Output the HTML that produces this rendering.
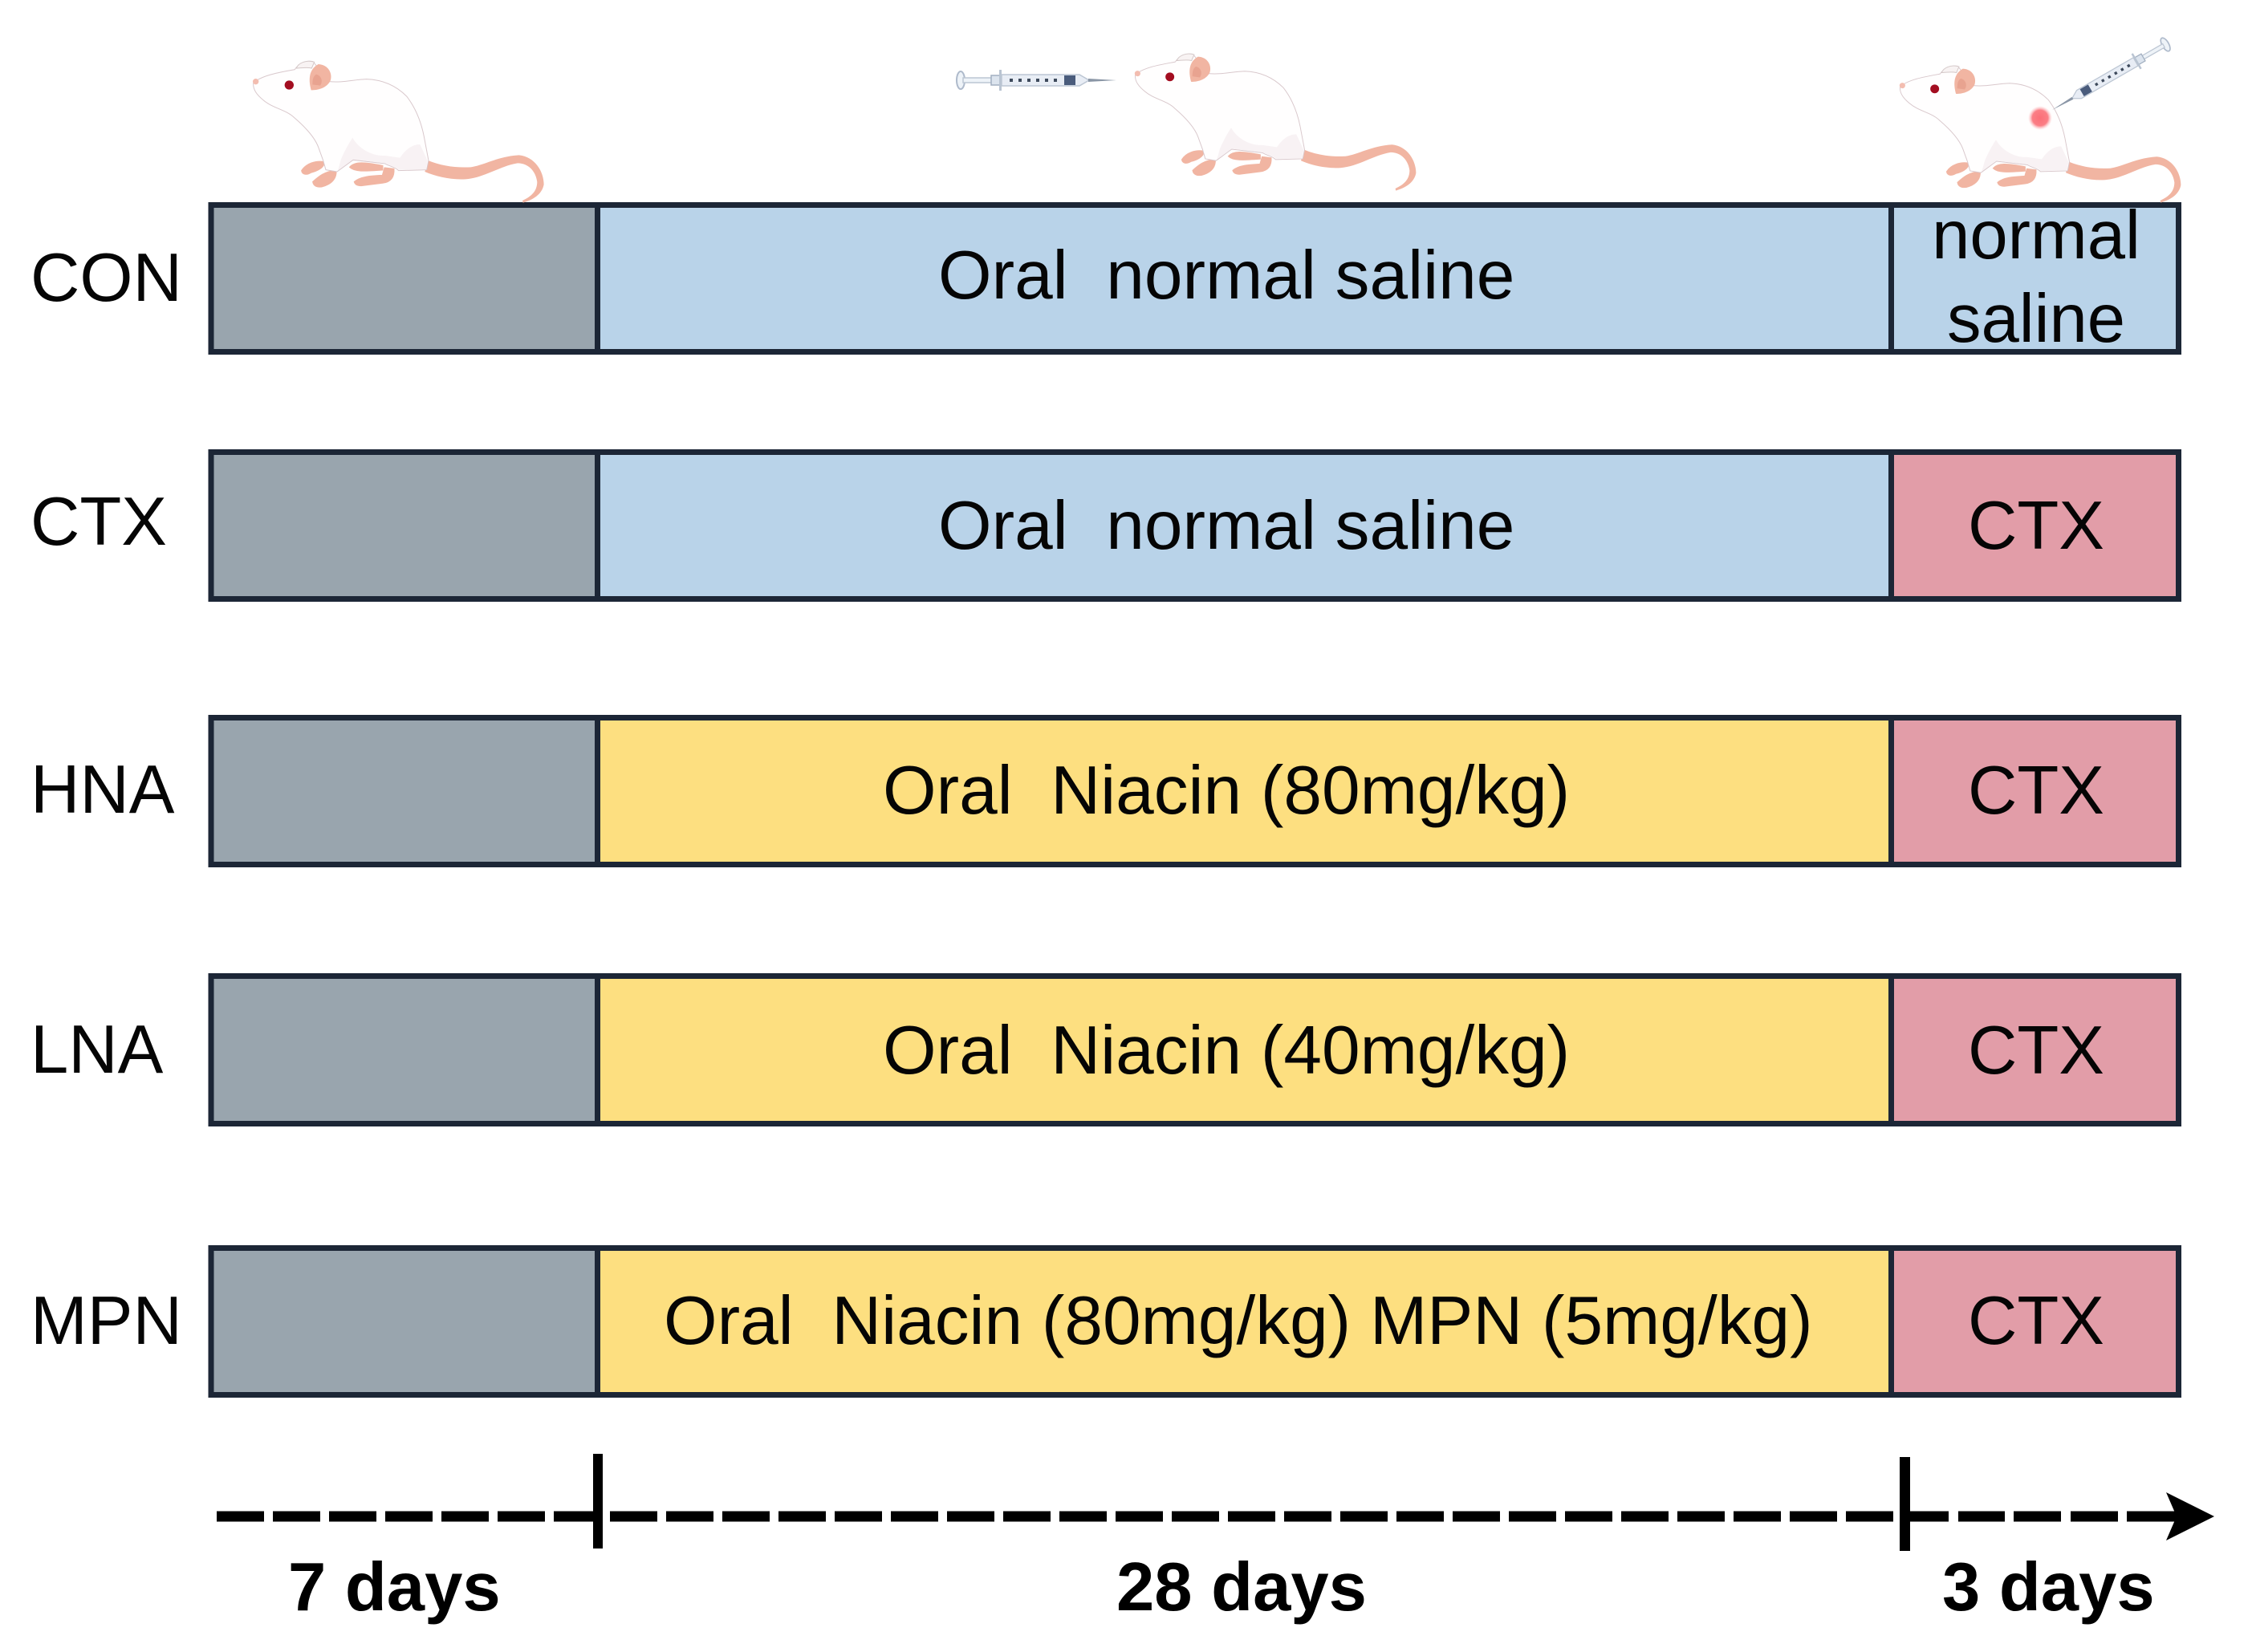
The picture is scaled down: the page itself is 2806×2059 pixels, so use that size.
<!DOCTYPE html>
<html lang="en">
<head>
<meta charset="utf-8">
<title>Experimental design timeline</title>
<style>
html,body{margin:0;padding:0;background:#fff;width:2806px;height:2059px;overflow:hidden}
svg{display:block}
text{font-family:"Liberation Sans",Arial,sans-serif;font-size:85px;fill:#050505;white-space:pre}
text.w{font-size:85.6px}
.b{font-weight:bold;fill:#000}
.st{stroke:#1c2636;stroke-width:7;stroke-linejoin:miter}
.gray{fill:#99a5ae}.blue{fill:#b9d3e9}.yel{fill:#fddf80}.pink{fill:#e29da8}
</style>
</head>
<body>
<svg xmlns="http://www.w3.org/2000/svg" width="2806" height="2059" viewBox="0 0 2806 2059">
<defs>
<radialGradient id="spot"><stop offset="0" stop-color="#fb6f78"/><stop offset=".65" stop-color="#fb7f86"/><stop offset="1" stop-color="#fdc4c8" stop-opacity="0"/></radialGradient>
<g id="rat">
  <path d="M850 480C900 500 950 508 1010 505C1060 498 1110 465 1190 460C1248 465 1283 520 1283 570C1276 608 1240 628 1205 638L1203 630C1236 615 1258 595 1258 560C1253 520 1225 490 1185 490C1120 500 1060 545 990 550C935 553 880 540 838 522Z" fill="#f1b5a2"/>
  <path d="M378 518C395 492 430 480 462 486C462 508 432 520 412 525C395 535 380 532 378 518Z" fill="#f1b5a2" stroke="#f1b5a2" stroke-width="5"/>
  <path d="M420 560C440 542 465 520 506 518C508 545 492 564 465 574C445 582 423 580 420 560Z" fill="#f1b5a2" stroke="#f1b5a2" stroke-width="5"/>
  <path d="M558 505C575 485 610 486 680 500L680 515C610 520 575 522 558 505Z" fill="#f1b5a2" stroke="#f1b5a2" stroke-width="5"/>
  <path d="M575 560C600 538 650 538 680 536L688 508L722 512C724 540 712 560 680 564L600 574C585 574 578 570 575 560Z" fill="#f1b5a2" stroke="#f1b5a2" stroke-width="5"/>
  <path d="M197 190C230 160 300 150 352 140C365 118 395 105 420 110L480 185C530 190 570 178 620 176C680 178 730 200 770 240C805 285 825 340 835 390L852 480L845 515L740 518C730 505 700 500 690 492L570 478L510 522L468 515L458 480L440 430C425 390 385 350 350 320C320 290 270 285 235 255C210 235 195 215 197 190Z" fill="#fffefe" stroke="#d9c8cc" stroke-width="3"/>
  <path d="M525 475C540 440 555 415 568 395C590 435 640 465 690 462L745 470C765 440 790 420 820 420L848 480L843 513L742 515C732 503 702 498 692 490L570 476L512 518C518 505 520 490 525 475Z" fill="#f8f2f4"/>
  <path d="M358 135C365 115 395 103 425 112L415 135C395 130 375 135 358 135Z" fill="#f8f3f3" stroke="#d4c8c8" stroke-width="3"/>
  <path d="M440 120C478 122 494 155 485 182C472 208 440 218 413 217C403 180 403 140 440 120Z" fill="#f1b5a2"/>
  <path d="M432 158C452 163 458 185 447 200L418 196C418 180 420 165 432 158Z" fill="#e8a390"/>
  <circle cx="331" cy="198" r="17" fill="#a30d20"/>
  <circle cx="206" cy="185" r="11" fill="#f3bdb0"/>
</g>
<g id="syringe">
  <ellipse cx="1197" cy="100" rx="5" ry="11" fill="#eef3f8" stroke="#aebacb" stroke-width="2"/>
  <rect x="1200" y="97" width="38" height="6" fill="#eef3f8" stroke="#bcc6d3" stroke-width="1.5"/>
  <rect x="1235" y="94" width="12" height="12" fill="#dce4ee" stroke="#a2afc0" stroke-width="1.5"/>
  <rect x="1245" y="87" width="3" height="26" fill="#b9c4d2"/>
  <path d="M1248 93H1345L1357 100L1345 107H1248Z" fill="#e8edf5" stroke="#bcc6d3" stroke-width="1.5"/>
  <path d="M1258 100H1322" stroke="#3e4a5c" stroke-width="4" stroke-dasharray="4 7"/>
  <rect x="1326" y="94" width="14" height="12" fill="#4a5c7c"/>
  <path d="M1356 98L1391 100L1356 102Z" fill="#8a96a6"/>
</g>
</defs>

<!-- Row CON -->
<g>
<text x="38" y="375">CON</text>
<rect x="263" y="255.5" width="481.5" height="183" class="gray st"/>
<rect x="744.5" y="255.5" width="1612" height="183" class="blue st"/>
<rect x="2356.5" y="255.5" width="358" height="183" class="blue st"/>
<text x="1169" y="372" class="w">Oral  normal saline</text>
<text x="2537" y="322" text-anchor="middle">normal</text>
<text x="2537" y="426" text-anchor="middle">saline</text>
</g>

<!-- Row CTX -->
<g>
<text x="38" y="679">CTX</text>
<rect x="263" y="563.5" width="481.5" height="183" class="gray st"/>
<rect x="744.5" y="563.5" width="1612" height="183" class="blue st"/>
<rect x="2356.5" y="563.5" width="358" height="183" class="pink st"/>
<text x="1169" y="684" class="w">Oral  normal saline</text>
<text x="2452" y="684">CTX</text>
</g>

<!-- Row HNA -->
<g>
<text x="38" y="1013">HNA</text>
<rect x="263" y="894.5" width="481.5" height="183" class="gray st"/>
<rect x="744.5" y="894.5" width="1612" height="183" class="yel st"/>
<rect x="2356.5" y="894.5" width="358" height="183" class="pink st"/>
<text x="1100" y="1014" class="w">Oral  Niacin (80mg/kg)</text>
<text x="2452" y="1014">CTX</text>
</g>

<!-- Row LNA -->
<g>
<text x="38" y="1337">LNA</text>
<rect x="263" y="1216.5" width="481.5" height="184" class="gray st"/>
<rect x="744.5" y="1216.5" width="1612" height="184" class="yel st"/>
<rect x="2356.5" y="1216.5" width="358" height="184" class="pink st"/>
<text x="1100" y="1338" class="w">Oral  Niacin (40mg/kg)</text>
<text x="2452" y="1338">CTX</text>
</g>

<!-- Row MPN -->
<g>
<text x="38" y="1675">MPN</text>
<rect x="263" y="1555.5" width="481.5" height="183" class="gray st"/>
<rect x="744.5" y="1555.5" width="1612" height="183" class="yel st"/>
<rect x="2356.5" y="1555.5" width="358" height="183" class="pink st"/>
<text x="827" y="1675" class="w">Oral  Niacin (80mg/kg) MPN (5mg/kg)</text>
<text x="2452" y="1675">CTX</text>
</g>

<!-- Illustrations -->
<use href="#rat" transform="translate(250 40) scale(.3333)"/>
<use href="#rat" transform="translate(1351 32) scale(.3222)"/>
<use href="#rat" transform="translate(2304 47) scale(.3222)"/>
<use href="#syringe"/>
<circle cx="2542" cy="147" r="15" fill="url(#spot)"/>
<use href="#syringe" transform="translate(2557 137) rotate(150) scale(.84) translate(-1391 -100)"/>

<!-- Timeline -->
<g>
<path d="M270 1890H739" stroke="#000" stroke-width="13" stroke-dasharray="59 11" fill="none"/>
<path d="M760 1890H2367" stroke="#000" stroke-width="13" stroke-dasharray="59 11" fill="none"/>
<path d="M2380 1890H2428M2440 1890H2498M2509 1890H2568M2580 1890H2639M2650 1890H2712" stroke="#000" stroke-width="13" fill="none"/>
<rect x="739" y="1812" width="12" height="118" fill="#000"/>
<rect x="2367" y="1816" width="13" height="117" fill="#000"/>
<path d="M2699 1860L2759 1890L2699 1920L2712 1890Z" fill="#000"/>
<text x="359" y="2007" class="b">7 days</text>
<text x="1391" y="2007" class="b">28 days</text>
<text x="2420" y="2007" class="b">3 days</text>
</g>
</svg>
</body>
</html>
